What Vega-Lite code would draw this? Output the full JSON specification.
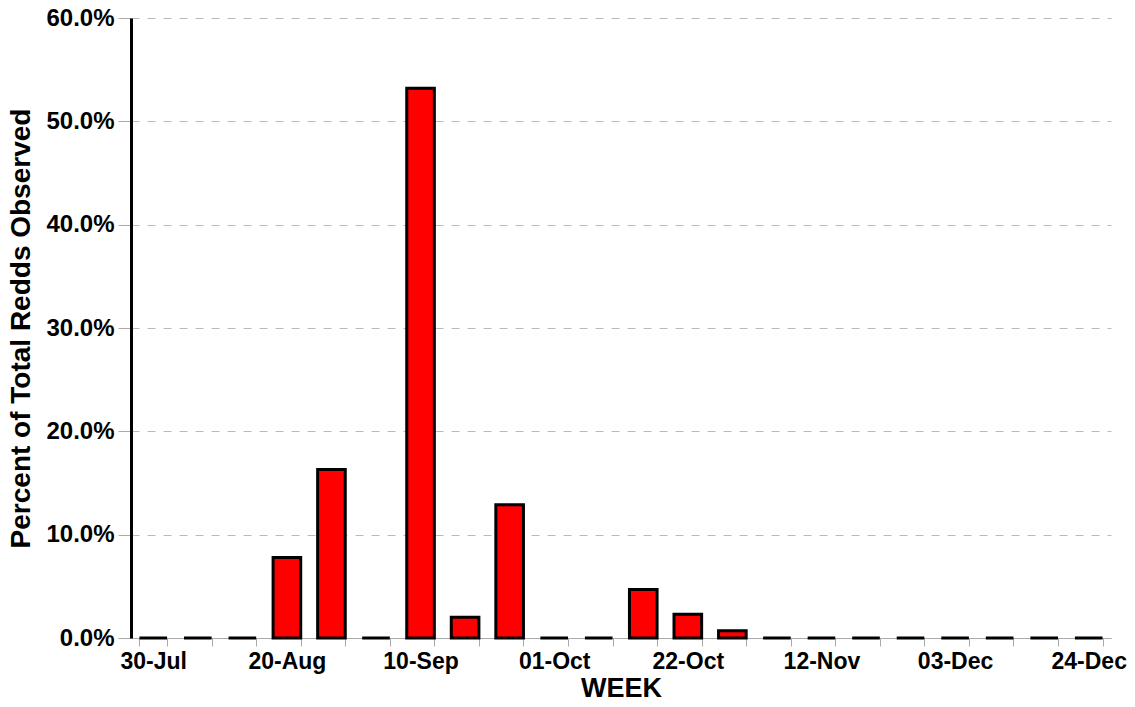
{
  "$schema": "https://vega.github.io/schema/vega-lite/v6.json",
  "width": 980,
  "height": 620,
  "autosize": {"type": "none"},
  "padding": {"left": 131, "top": 18, "right": 24, "bottom": 69},
  "background": "white",
  "config": {"view": {"stroke": null}, "font": "Liberation Sans"},
  "data": {"values": [
    {"week": "30-Jul", "pct": 0},
    {"week": "06-Aug", "pct": 0},
    {"week": "13-Aug", "pct": 0},
    {"week": "20-Aug", "pct": 0.078},
    {"week": "27-Aug", "pct": 0.163},
    {"week": "03-Sep", "pct": 0},
    {"week": "10-Sep", "pct": 0.532},
    {"week": "17-Sep", "pct": 0.020},
    {"week": "24-Sep", "pct": 0.129},
    {"week": "01-Oct", "pct": 0},
    {"week": "08-Oct", "pct": 0},
    {"week": "15-Oct", "pct": 0.047},
    {"week": "22-Oct", "pct": 0.023},
    {"week": "29-Oct", "pct": 0.007},
    {"week": "05-Nov", "pct": 0},
    {"week": "12-Nov", "pct": 0},
    {"week": "19-Nov", "pct": 0},
    {"week": "26-Nov", "pct": 0},
    {"week": "03-Dec", "pct": 0},
    {"week": "10-Dec", "pct": 0},
    {"week": "17-Dec", "pct": 0},
    {"week": "24-Dec", "pct": 0}
  ]},
  "mark": {"type": "bar", "fill": "#ff0000", "stroke": "black", "strokeWidth": 3, "strokeJoin": "miter"},
  "encoding": {
    "x": {
      "field": "week", "type": "ordinal", "sort": null,
      "scale": {"paddingInner": 0.38, "paddingOuter": 0.19},
      "axis": {
        "title": "WEEK", "titleFontSize": 27, "titleFontWeight": "bold", "titleColor": "black", "titlePadding": 2,
        "labelAngle": 0, "labelFontSize": 23, "labelFontWeight": "bold", "labelColor": "black", "labelPadding": 4,
        "labelExpr": "(datum.value == '30-Jul' || datum.value == '20-Aug' || datum.value == '10-Sep' || datum.value == '01-Oct' || datum.value == '22-Oct' || datum.value == '12-Nov' || datum.value == '03-Dec' || datum.value == '24-Dec') ? datum.value : ''",
        "tickBand": "extent", "tickColor": "#aaaaaa", "tickSize": 8, "tickWidth": 1,
        "domainColor": "#aaaaaa", "domainWidth": 1, "labelOverlap": false
      }
    },
    "y": {
      "field": "pct", "type": "quantitative",
      "scale": {"domain": [0, 0.6], "nice": false},
      "axis": {
        "title": "Percent of Total Redds Observed", "titleFontSize": 28, "titleFontWeight": "bold", "titleColor": "black", "titlePadding": 10,
        "format": ".1%", "values": [0, 0.1, 0.2, 0.3, 0.4, 0.5, 0.6],
        "labelFontSize": 24, "labelFontWeight": "bold", "labelColor": "black", "labelPadding": 4,
        "tickColor": "#aaaaaa", "tickSize": 13, "domainColor": "black", "domainWidth": 3,
        "grid": true, "gridColor": "#bbbbbb", "gridDash": [8, 8], "gridWidth": 1
      }
    }
  }
}
